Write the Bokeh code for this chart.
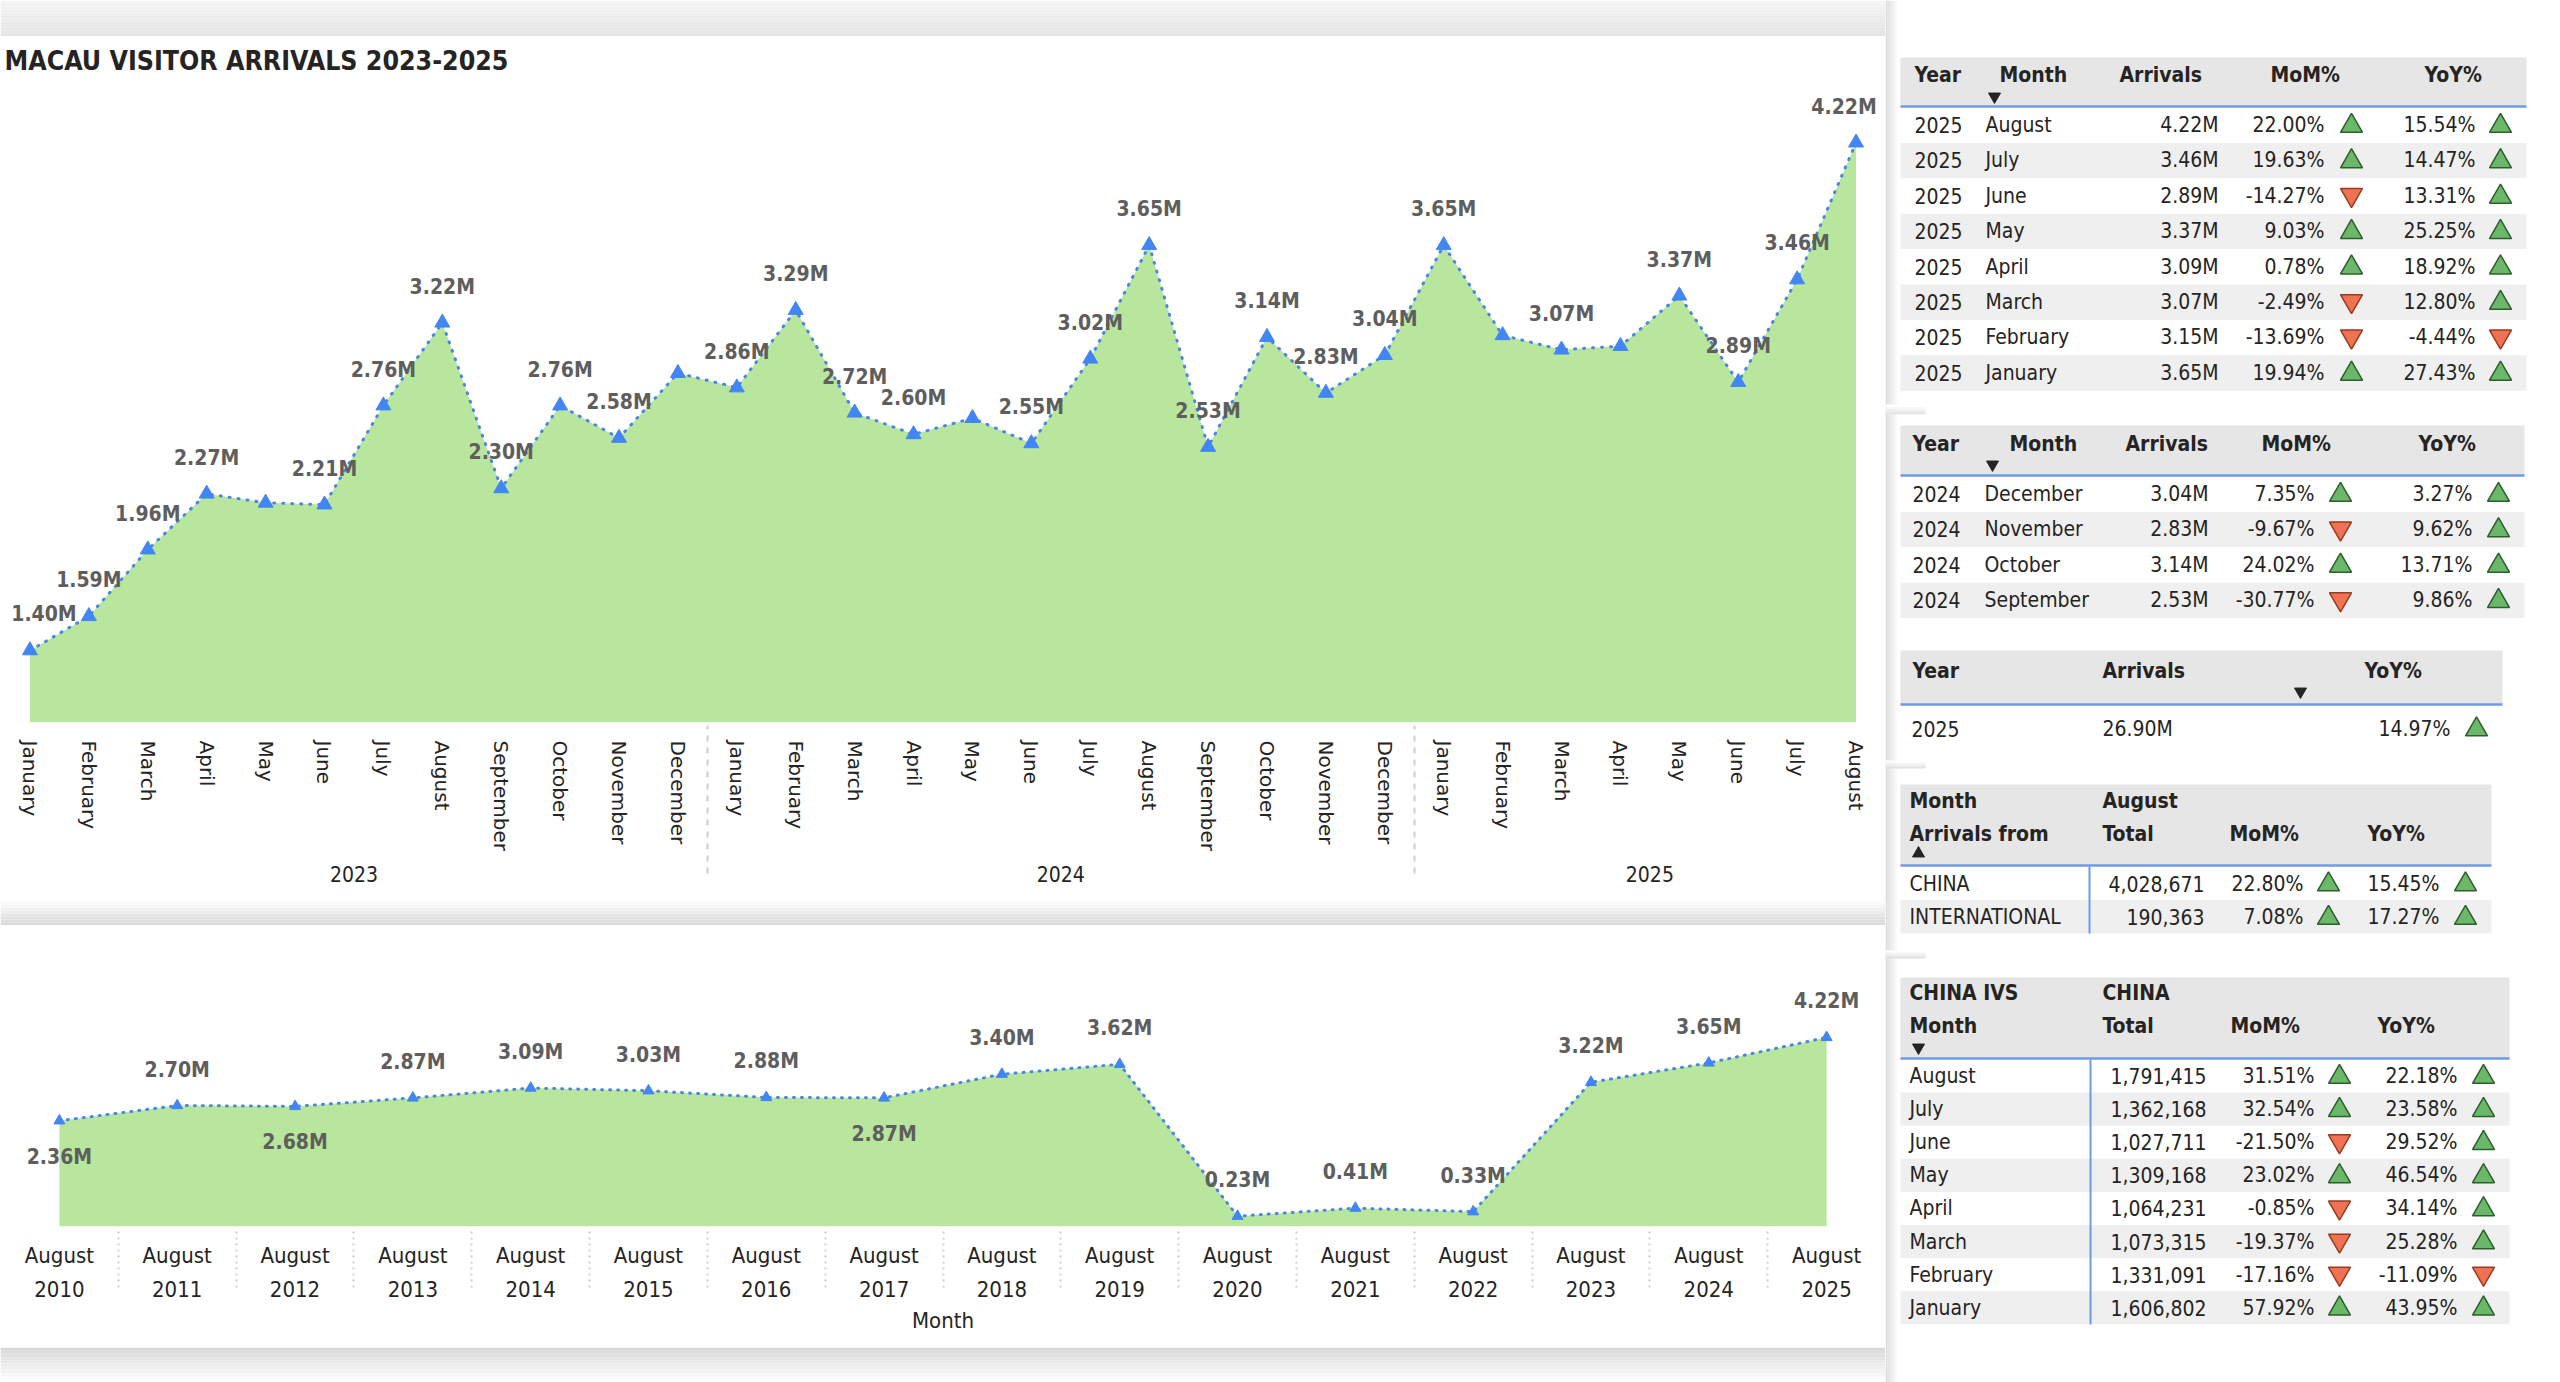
from bokeh.plotting import figure
from bokeh.layouts import row, column
from bokeh.models import FactorRange, Range1d, ColumnDataSource
from bokeh.core.properties import value
from bokeh.embed import file_html
from bokeh.resources import INLINE

# ---------------- data ----------------
month_names = ["January", "February", "March", "April", "May", "June", "July",
               "August", "September", "October", "November", "December"]

recent_years = ["2023"] * 12 + ["2024"] * 12 + ["2025"] * 8
recent_months = month_names + month_names + month_names[:8]
recent_arrivals_m = [1.40, 1.59, 1.96, 2.27, 2.22, 2.21, 2.76, 3.22, 2.30, 2.76, 2.58, 2.94,
                     2.86, 3.29, 2.72, 2.60, 2.69, 2.55, 3.02, 3.65, 2.53, 3.14, 2.83, 3.04,
                     3.65, 3.15, 3.07, 3.09, 3.37, 2.89, 3.46, 4.22]

august_years = [str(y) for y in range(2010, 2026)]
august_arrivals_m = [2.36, 2.70, 2.68, 2.87, 3.09, 3.03, 2.88, 2.87,
                     3.40, 3.62, 0.23, 0.41, 0.33, 3.22, 3.65, 4.22]

y2025_months = ["August", "July", "June", "May", "April", "March", "February", "January"]
y2025_arrivals_m = [4.22, 3.46, 2.89, 3.37, 3.09, 3.07, 3.15, 3.65]
y2025_mom = [22.00, 19.63, -14.27, 9.03, 0.78, -2.49, -13.69, 19.94]
y2025_yoy = [15.54, 14.47, 13.31, 25.25, 18.92, 12.80, -4.44, 27.43]

y2024_months = ["December", "November", "October", "September"]
y2024_arrivals_m = [3.04, 2.83, 3.14, 2.53]
y2024_mom = [7.35, -9.67, 24.02, -30.77]
y2024_yoy = [3.27, 9.62, 13.71, 9.86]

ytd_year = "2025"
ytd_arrivals_m = 26.90
ytd_yoy = 14.97

origin_names = ["CHINA", "INTERNATIONAL"]
origin_totals = [4028671, 190363]
origin_mom = [22.80, 7.08]
origin_yoy = [15.45, 17.27]

ivs_months = ["August", "July", "June", "May", "April", "March", "February", "January"]
ivs_totals = [1791415, 1362168, 1027711, 1309168, 1064231, 1073315, 1331091, 1606802]
ivs_mom = [31.51, 32.54, -21.50, 23.02, -0.85, -19.37, -17.16, 57.92]
ivs_yoy = [22.18, 23.58, 29.52, 46.54, 34.14, 25.28, -11.09, 43.95]

# ---------------- styling ----------------
COND = "DejaVu Sans Condensed"
TXT = "#252423"
AREA = "#b8e69c"
LINE = "#4a86e8"
MARK = "#4285f4"
LABEL = "#5e5e5e"
LEFT_W, RIGHT_W = 1885, 675


def bare(p):
    p.xgrid.grid_line_color = None
    p.ygrid.grid_line_color = None
    p.outline_line_color = None
    p.background_fill_color = "white"
    p.border_fill_color = "white"


def mix(c0, c1, t):
    a = [int(c0[i:i + 2], 16) for i in (1, 3, 5)]
    b = [int(c1[i:i + 2], 16) for i in (1, 3, 5)]
    return "#%02x%02x%02x" % tuple(round(a[k] + (b[k] - a[k]) * t) for k in range(3))


def gradient(p, x0, x1, y0, y1, c0, c1, n=12, vertical=True):
    for i in range(n):
        t = i / (n - 1)
        col = mix(c0, c1, t)
        if vertical:
            ya = y0 + (y1 - y0) * i / n
            yb = y0 + (y1 - y0) * (i + 1) / n
            p.quad(left=x0, right=x1, top=ya, bottom=yb, fill_color=col, line_color=None)
        else:
            xa = x0 + (x1 - x0) * i / n
            xb = x0 + (x1 - x0) * (i + 1) / n
            p.quad(left=xa, right=xb, top=y0, bottom=y1, fill_color=col, line_color=None)


def strip(h, c_top, c_bottom):
    s = figure(width=LEFT_W, height=h, x_range=Range1d(0, 1), y_range=Range1d(h, 0),
               x_axis_location=None, y_axis_location=None, min_border=0,
               output_backend="svg", toolbar_location=None)
    bare(s)
    gradient(s, 0, 1, 0, h, c_top, c_bottom, n=max(4, h // 3))
    return s


def style_axis(a, major_font, major_size, dash):
    a.major_tick_line_color = None
    a.minor_tick_line_color = None
    a.axis_line_color = None
    a.major_label_text_font = major_font
    a.major_label_text_font_size = major_size
    a.major_label_text_color = TXT
    a.group_text_font = COND
    a.group_text_font_size = "21px"
    a.group_text_font_style = "normal"
    a.group_text_color = TXT
    a.separator_line_color = "#cfcfcf"
    a.separator_line_dash = dash
    a.separator_line_width = 2


# ---------------- monthly chart 2023-2025 ----------------
x_recent = list(zip(recent_years, recent_months))
no_label = {4, 11, 16, 25, 27}
recent_labels = ["" if i in no_label else f"{v:.2f}M" for i, v in enumerate(recent_arrivals_m)]
n_recent = len(recent_arrivals_m)
# nudge the two edge labels inwards so they stay inside the card
recent_dx = [14 if i == 0 else (-12 if i == n_recent - 1 else 0) for i in range(n_recent)]
src_recent = ColumnDataSource(dict(x=x_recent, y=recent_arrivals_m, label=recent_labels, dx=recent_dx))

y0_top = 1.0
top = figure(width=LEFT_W, height=862,
             x_range=FactorRange(*x_recent, factor_padding=0, group_padding=0,
                                 subgroup_padding=0, range_padding=0),
             y_range=Range1d(y0_top, 4.565), y_axis_location=None,
             min_border_left=0, min_border_right=0, min_border_top=44, min_border_bottom=176,
             title="MACAU VISITOR ARRIVALS 2023-2025",
             output_backend="svg", toolbar_location=None)
bare(top)
top.title.text_font = COND
top.title.text_font_style = "bold"
top.title.text_font_size = "26.5px"
top.title.text_color = TXT
top.title.align = "left"
top.title.offset = 4

ax = top.xaxis[0]
style_axis(ax, "DejaVu Sans", "20px", "dashed")
ax.major_label_orientation = "vertical"
ax.major_label_standoff = 12

top.varea(x="x", y1=y0_top, y2="y", source=src_recent, fill_color=AREA)
top.line("x", "y", source=src_recent, line_color=LINE, line_width=3,
         line_dash="1 8", line_cap="round")
top.scatter("x", "y", source=src_recent, marker="triangle", size=15,
            fill_color=MARK, line_color=MARK)
top.text("x", "y", text="label", source=src_recent, x_offset="dx", y_offset=-36,
         text_align="center", text_baseline="middle",
         text_font=value(COND), text_font_style="bold", text_font_size="21px",
         text_color=LABEL)

# ---------------- August of each year ----------------
x_aug = [(y, "August") for y in august_years]
below = {0, 2, 7}
aug_labels = [f"{v:.2f}M" for v in august_arrivals_m]
aug_off = [36 if i in below else -36 for i in range(len(august_years))]
src_aug = ColumnDataSource(dict(x=x_aug, y=august_arrivals_m, label=aug_labels, off=aug_off))

bot = figure(width=LEFT_W, height=422,
             x_range=FactorRange(*x_aug, factor_padding=0, group_padding=0,
                                 subgroup_padding=0, range_padding=0),
             y_range=Range1d(0, 5.49), y_axis_location=None,
             min_border_left=0, min_border_right=0, min_border_top=55, min_border_bottom=121,
             output_backend="svg", toolbar_location=None)
bare(bot)
bx = bot.xaxis[0]
style_axis(bx, COND, "22px", "dotted")
bx.group_text_font_size = "22px"
bx.major_label_standoff = 10
bx.axis_label = "Month"
bx.axis_label_text_font = COND
bx.axis_label_text_font_style = "normal"
bx.axis_label_text_font_size = "22px"
bx.axis_label_text_color = TXT
bx.axis_label_standoff = 8

bot.varea(x="x", y1=0, y2="y", source=src_aug, fill_color=AREA)
bot.line("x", "y", source=src_aug, line_color=LINE, line_width=3,
         line_dash="1 7", line_cap="round")
bot.scatter("x", "y", source=src_aug, marker="triangle", size=11,
            fill_color=MARK, line_color=MARK)
bot.text("x", "y", text="label", source=src_aug, y_offset="off",
         text_align="center", text_baseline="middle",
         text_font=value(COND), text_font_style="bold", text_font_size="21px",
         text_color=LABEL)

# ---------------- tables panel ----------------
X0 = LEFT_W
tab = figure(width=RIGHT_W, height=1382, x_range=Range1d(X0, X0 + RIGHT_W),
             y_range=Range1d(1382, 0), x_axis_location=None, y_axis_location=None,
             min_border=0, output_backend="svg", toolbar_location=None)
bare(tab)

# card shadows
gradient(tab, X0, X0 + 14, 0, 1382, "#dcdcdc", "#ffffff", n=7, vertical=False)
gradient(tab, X0, X0 + 40, 404, 414, "#ffffff", "#e6e6e6", n=4)
gradient(tab, X0, X0 + 40, 760, 768, "#ffffff", "#e2e2e2", n=4)
gradient(tab, X0, X0 + 40, 950, 958, "#ffffff", "#e2e2e2", n=4)

HEAD_BG = "#e6e6e6"
ROW_BG = "#efefef"
BLUE = "#6d9ce6"
FS = "21px"


def put(x, y, txt, align="left", bold=False):
    tab.text(x=[x], y=[y], text=[txt], text_align=align, text_baseline="middle",
             text_font=value(COND), text_font_size=FS,
             text_font_style="bold" if bold else "normal", text_color=TXT)


def arrow(x, y, pct):
    up = pct >= 0
    tab.scatter(x=[x], y=[y + (1 if up else -1)], marker="triangle" if up else "inverted_triangle",
                size=22, fill_color="#6cb86a" if up else "#ef7253",
                line_color="#2e5e2e" if up else "#9a3a22", line_width=1.5)


def sort_mark(x, y, up=False):
    tab.scatter(x=[x], y=[y], marker="triangle" if up else "inverted_triangle", size=12,
                fill_color=TXT, line_color=TXT)


def header(x0, x1, y0, y1):
    tab.quad(left=x0, right=x1, top=y0, bottom=y1, fill_color=HEAD_BG, line_color=None)
    tab.segment(x0=x0, y0=y1, x1=x1, y1=y1, line_color=BLUE, line_width=2.5)


def stripes(x0, x1, y_start, pitch, n):
    for k in range(n):
        if k % 2 == 1:
            tab.quad(left=x0, right=x1, top=y_start + pitch * k, bottom=y_start + pitch * (k + 1),
                     fill_color=ROW_BG, line_color=None)


def pct(v):
    return f"{v:.2f}%"


# table: 2025 by month
header(1900, 2526, 57, 106)
stripes(1900, 2526, 107, 35.4, len(y2025_months))
for x, t in [(1914, "Year"), (1999, "Month"), (2119, "Arrivals"), (2270, "MoM%"), (2424, "YoY%")]:
    put(x, 74, t, bold=True)
sort_mark(1994, 96)
for k, m in enumerate(y2025_months):
    yc = 124.5 + 35.4 * k
    put(1914, yc, "2025")
    put(1985, yc, m)
    put(2218, yc, f"{y2025_arrivals_m[k]:.2f}M", "right")
    put(2324, yc, pct(y2025_mom[k]), "right")
    arrow(2351, yc, y2025_mom[k])
    put(2475, yc, pct(y2025_yoy[k]), "right")
    arrow(2500, yc, y2025_yoy[k])

# table: late 2024 by month
header(1900, 2524, 425, 475)
stripes(1900, 2524, 476, 35.4, len(y2024_months))
for x, t in [(1912, "Year"), (2009, "Month"), (2125, "Arrivals"), (2261, "MoM%"), (2418, "YoY%")]:
    put(x, 443, t, bold=True)
sort_mark(1992, 464)
for k, m in enumerate(y2024_months):
    yc = 493.5 + 35.4 * k
    put(1912, yc, "2024")
    put(1984, yc, m)
    put(2208, yc, f"{y2024_arrivals_m[k]:.2f}M", "right")
    put(2314, yc, pct(y2024_mom[k]), "right")
    arrow(2340, yc, y2024_mom[k])
    put(2472, yc, pct(y2024_yoy[k]), "right")
    arrow(2498, yc, y2024_yoy[k])

# table: year to date
header(1900, 2502, 650, 704)
for x, t in [(1912, "Year"), (2102, "Arrivals"), (2364, "YoY%")]:
    put(x, 670, t, bold=True)
sort_mark(2300, 691)
put(1911, 728, ytd_year)
put(2102, 728, f"{ytd_arrivals_m:.2f}M")
put(2450, 728, pct(ytd_yoy), "right")
arrow(2476, 728, ytd_yoy)

# table: arrivals by origin
header(1900, 2491, 784, 865)
stripes(1900, 2491, 866, 33.5, len(origin_names))
put(1909, 800, "Month", bold=True)
put(2102, 800, "August", bold=True)
for x, t in [(1909, "Arrivals from"), (2102, "Total"), (2229, "MoM%"), (2367, "YoY%")]:
    put(x, 833, t, bold=True)
sort_mark(1918, 853, up=True)
tab.segment(x0=2089, y0=866, x1=2089, y1=933, line_color=BLUE, line_width=2)
for k, name in enumerate(origin_names):
    yc = 883 + 33.5 * k
    put(1909, yc, name)
    put(2204, yc, f"{origin_totals[k]:,}", "right")
    put(2303, yc, pct(origin_mom[k]), "right")
    arrow(2328, yc, origin_mom[k])
    put(2439, yc, pct(origin_yoy[k]), "right")
    arrow(2465, yc, origin_yoy[k])

# table: China individual visit scheme
header(1900, 2509, 977, 1058)
stripes(1900, 2509, 1059, 33.1, len(ivs_months))
put(1909, 992, "CHINA IVS", bold=True)
put(2102, 992, "CHINA", bold=True)
for x, t in [(1909, "Month"), (2102, "Total"), (2230, "MoM%"), (2377, "YoY%")]:
    put(x, 1025, t, bold=True)
sort_mark(1918, 1047)
tab.segment(x0=2090, y0=1059, x1=2090, y1=1324, line_color=BLUE, line_width=2)
for k, m in enumerate(ivs_months):
    yc = 1075.5 + 33.1 * k
    put(1909, yc, m)
    put(2206, yc, f"{ivs_totals[k]:,}", "right")
    put(2314, yc, pct(ivs_mom[k]), "right")
    arrow(2339, yc, ivs_mom[k])
    put(2457, yc, pct(ivs_yoy[k]), "right")
    arrow(2483, yc, ivs_yoy[k])

# ---------------- page ----------------
left = column(strip(36, "#f4f4f4", "#e3e3e3"), top,
              strip(27, "#ffffff", "#d9d9d9"), bot,
              strip(35, "#d8d8d8", "#ffffff"), spacing=0)
page = row(left, tab, spacing=0)

open("out.html", "w").write(file_html(page, INLINE))
